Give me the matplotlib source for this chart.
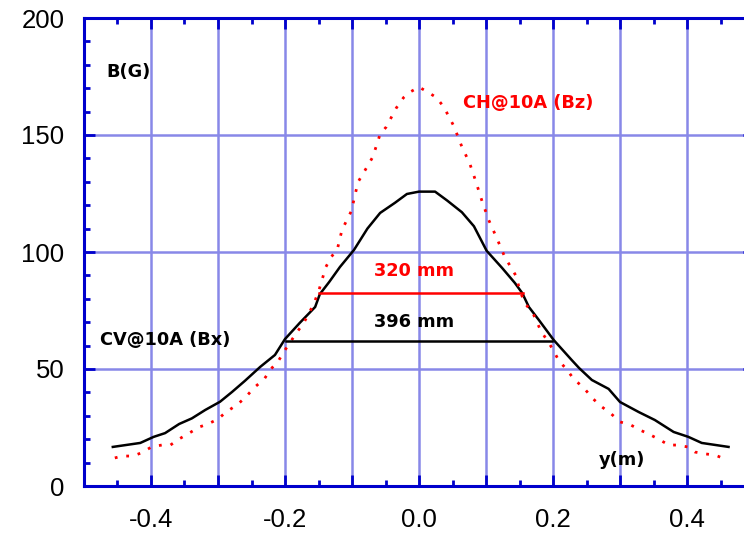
import matplotlib
matplotlib.use("Agg")
import matplotlib.pyplot as plt
from matplotlib.ticker import MultipleLocator, FuncFormatter

# CV@10A (Bx) - solid black curve
cv_y = [-0.457, -0.416, -0.396, -0.379, -0.358, -0.339, -0.319, -0.297, -0.279,
        -0.260, -0.237, -0.215, -0.200, -0.178, -0.155, -0.148, -0.134, -0.118,
        -0.097, -0.077, -0.058, -0.036, -0.018, 0.000, 0.024, 0.042, 0.064,
        0.082, 0.101, 0.124, 0.143, 0.154, 0.164, 0.179, 0.201, 0.228, 0.239,
        0.258, 0.283, 0.300, 0.328, 0.352, 0.380, 0.402, 0.422, 0.462]
cv_b = [16.7, 18.4, 21.0, 22.6, 26.5, 28.9, 32.5, 36.0, 40.2,
        44.9, 50.9, 56.0, 62.8, 69.7, 76.5, 82.0, 87.2, 93.6,
        100.9, 110.0, 116.7, 121.0, 124.8, 125.8, 125.8, 122.0, 117.0,
        111.0, 100.5, 93.2, 86.8, 82.5, 76.5, 70.9, 62.4, 53.8, 50.4,
        45.3, 41.5, 35.9, 31.6, 28.2, 23.1, 21.0, 18.4, 16.7]

# CH@10A (Bz) - red dotted curve
ch_y = [-0.454, -0.443, -0.427, -0.415, -0.399, -0.384, -0.371, -0.358, -0.343,
        -0.328, -0.315, -0.300, -0.288, -0.272, -0.260, -0.245, -0.231, -0.221,
        -0.210, -0.200, -0.193, -0.182, -0.172, -0.157, -0.149, -0.139, -0.131,
        -0.122, -0.115, -0.101, -0.091, -0.082, -0.069, -0.058, -0.049, -0.034,
        -0.023, -0.013, 0.000, 0.015, 0.026, 0.037, 0.052, 0.063, 0.076,
        0.085, 0.094, 0.104, 0.116, 0.128, 0.145, 0.151, 0.160, 0.170,
        0.182, 0.194, 0.201, 0.209, 0.220, 0.231, 0.246, 0.260, 0.273,
        0.287, 0.300, 0.316, 0.330, 0.343, 0.357, 0.373, 0.385, 0.401,
        0.412, 0.428, 0.442, 0.457]
ch_b = [12.0, 12.8, 12.8, 14.1, 16.7, 17.5, 17.5, 20.1, 22.6,
        25.2, 26.5, 28.6, 31.6, 34.6, 37.6, 42.3, 45.7, 50.0,
        53.4, 58.1, 61.1, 65.8, 69.7, 77.8, 84.0, 93.6, 97.9,
        101.0, 109.4, 117.5, 129.9, 134.2, 140.6, 150.4, 153.4, 161.5,
        166.0, 168.4, 170.5, 168.0, 166.0, 162.0, 153.8, 145.7, 137.6,
        130.0, 121.8, 113.7, 106.0, 97.9, 89.7, 82.9, 77.4, 73.9,
        66.2, 61.1, 57.7, 53.4, 50.0, 45.7, 41.9, 37.2, 33.8,
        30.8, 27.4, 26.1, 23.9, 22.2, 20.1, 17.5, 17.5, 16.7,
        14.5, 13.7, 13.2, 11.5]

# width markers (y range, level)
ch_width = [-0.150, 0.155]
ch_level = 82.5
cv_width = [-0.198, 0.198]
cv_level = 62.0

spine_col = "#0000cc"
grid_col = "#8888e8"

fig = plt.figure(figsize=(7.44, 5.40), dpi=100)
ax = fig.add_axes([84 / 744, 54 / 540, 670 / 744, 468 / 540])

ax.plot(cv_y, cv_b, color="black", lw=1.8, zorder=3)
ax.plot(ch_y, ch_b, color="red", lw=2.0, ls=(0, (1, 3.2)), zorder=3)
ax.plot(ch_width, [ch_level, ch_level], color="red", lw=1.8, zorder=3)
ax.plot(cv_width, [cv_level, cv_level], color="black", lw=1.8, zorder=3)

ax.set_xlim(-0.5, 0.5)
ax.set_ylim(0, 200)

ax.xaxis.set_major_locator(MultipleLocator(0.1))
ax.xaxis.set_minor_locator(MultipleLocator(0.05))
ax.yaxis.set_major_locator(MultipleLocator(50))
ax.yaxis.set_minor_locator(MultipleLocator(10))


def xfmt(v, pos):
    k = int(round(v * 10))
    if k % 2:
        return ""
    return f"{v:.1f}".replace("-0.0", "0.0")


ax.xaxis.set_major_formatter(FuncFormatter(xfmt))

ax.grid(True, which="major", color=grid_col, lw=1.8, zorder=1)
for s in ax.spines.values():
    s.set_color(spine_col)
    s.set_linewidth(2.2)

ax.tick_params(which="both", direction="in", color=spine_col, top=True, right=True,
               labelsize=18.5, width=2)
ax.tick_params(which="major", length=8)
ax.tick_params(which="minor", length=4.5)
ax.tick_params(axis="x", which="major", pad=16)
ax.tick_params(axis="y", which="major", pad=14)
for lab in ax.get_xticklabels() + ax.get_yticklabels():
    lab.set_family("Liberation Sans")

tfont = dict(fontsize=12.8, fontweight="bold", family="DejaVu Sans")
ax.text(-0.466, 177, "B(G)", color="black", va="center", ha="left", **tfont)
ax.text(0.066, 163.5, "CH@10A (Bz)", color="red", va="center", ha="left", **tfont)
ax.text(-0.476, 62.5, "CV@10A (Bx)", color="black", va="center", ha="left", **tfont)
ax.text(-0.008, 92, "320 mm", color="red", va="center", ha="center", **tfont)
ax.text(-0.008, 70, "396 mm", color="black", va="center", ha="center", **tfont)
ax.text(0.303, 11, "y(m)", color="black", va="center", ha="center", **tfont)

fig.savefig("out.png", dpi=100)
